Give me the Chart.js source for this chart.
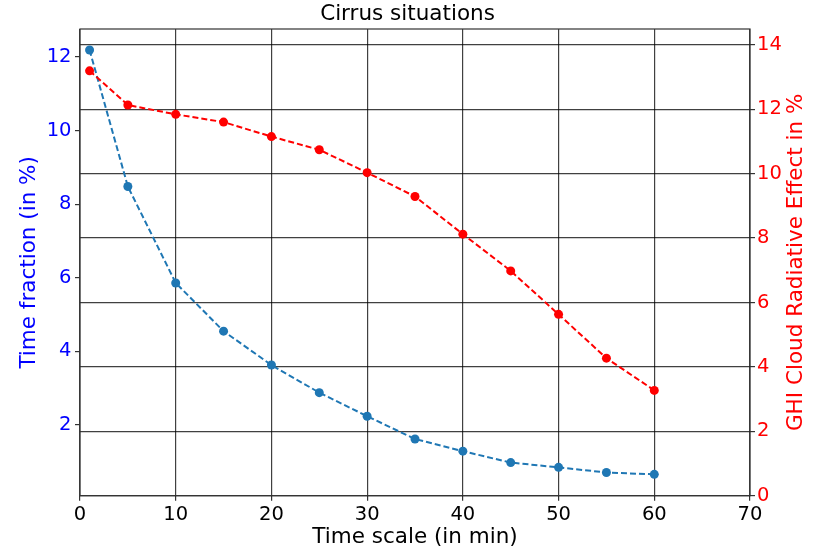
<!DOCTYPE html>
<html>
<head>
<meta charset="utf-8">
<title>Cirrus situations</title>
<script src="https://cdn.jsdelivr.net/npm/chart.js@4"></script>
<style>
  html, body { margin: 0; padding: 0; background: #fff; }
  #wrap { width: 815px; height: 550px; }
</style>
</head>
<body>
<div id="wrap"><canvas id="chartCirrus"></canvas></div>
<script>
// ===============================
// DATOS
// ===============================
const timeScale = [1, 5, 10, 15, 20, 25, 30, 35, 40, 45, 50, 55, 60];
const timeFraction = [12.19, 8.48, 5.86, 4.55, 3.63, 2.88, 2.24, 1.62, 1.29, 0.98, 0.85, 0.71, 0.66];
const cloudEffect = [13.19, 12.13, 11.84, 11.60, 11.15, 10.74, 10.03, 9.29, 8.12, 6.98, 5.63, 4.27, 3.27];

const xTicks = [0, 10, 20, 30, 40, 50, 60, 70];
const leftTicks = [2, 4, 6, 8, 10, 12];
const rightTicks = [0, 2, 4, 6, 8, 10, 12, 14];

const FONT = "'DejaVu Sans', sans-serif";
const GRID = "rgba(0,0,0,0.75)";
const TICK_SIZE = 19.5;
const LABEL_SIZE = 21.5;

// marco alrededor del área del gráfico (como los "spines" de matplotlib)
const marco = {
  id: "marco",
  afterDatasetsDraw(chart) {
    const { ctx, chartArea: a } = chart;
    ctx.save();
    ctx.strokeStyle = "#333";
    ctx.lineWidth = 1.2;
    ctx.strokeRect(a.left, a.top, a.right - a.left, a.bottom - a.top);
    ctx.restore();
  }
};

// título del eje derecho, leído de abajo hacia arriba
const tituloDerecho = {
  id: "tituloDerecho",
  afterDraw(chart) {
    const { ctx, chartArea: a } = chart;
    ctx.save();
    ctx.translate(796, (a.top + a.bottom) / 2);
    ctx.rotate(-Math.PI / 2);
    ctx.textAlign = "center";
    ctx.textBaseline = "middle";
    ctx.fillStyle = "#ff0000";
    ctx.font = `${LABEL_SIZE}px ${FONT}`;
    ctx.fillText("GHI Cloud Radiative Effect in %", 0, 0);
    ctx.restore();
  }
};

const toPoints = (xs, ys) => xs.map((x, i) => ({ x, y: ys[i] }));

new Chart(document.getElementById("chartCirrus"), {
  type: "line",
  data: {
    datasets: [
      {
        label: "Time fraction",
        data: toPoints(timeScale, timeFraction),
        yAxisID: "yLeft",
        borderColor: "#1f77b4",
        backgroundColor: "#1f77b4",
        borderWidth: 2,
        borderDash: [6, 3],
        pointRadius: 4.5,
        pointBorderWidth: 0,
        tension: 0,
        order: 2
      },
      {
        label: "GHI Cloud Radiative Effect",
        data: toPoints(timeScale, cloudEffect),
        yAxisID: "yRight",
        borderColor: "#ff0000",
        backgroundColor: "#ff0000",
        borderWidth: 2,
        borderDash: [6, 3],
        pointRadius: 4.5,
        pointBorderWidth: 0,
        tension: 0,
        order: 1
      }
    ]
  },
  options: {
    responsive: true,
    maintainAspectRatio: false,
    animation: false,
    layout: { padding: 0 },
    plugins: {
      legend: { display: false },
      tooltip: { enabled: false },
      title: {
        display: true,
        text: "Cirrus situations",
        color: "#000",
        font: { family: FONT, size: LABEL_SIZE, weight: "normal" },
        padding: { top: 1.2, bottom: 2 }
      }
    },
    scales: {
      x: {
        type: "linear",
        min: 0,
        max: 70,
        afterBuildTicks: s => { s.ticks = xTicks.map(v => ({ value: v })); },
        afterFit: s => { s.height = 54.3; },
        border: { display: false },
        grid: { color: GRID, lineWidth: 1.2, tickLength: 5, tickColor: "#333" },
        ticks: { color: "#000", padding: 3, font: { family: FONT, size: TICK_SIZE } },
        title: {
          display: true,
          text: "Time scale (in min)",
          color: "#000",
          font: { family: FONT, size: LABEL_SIZE },
          padding: { top: 0, bottom: 0 }
        }
      },
      yLeft: {
        type: "linear",
        position: "left",
        min: 0.08,
        max: 12.76,
        afterBuildTicks: s => { s.ticks = leftTicks.map(v => ({ value: v })); },
        afterFit: s => { s.width = 80; },
        border: { display: false },
        grid: { drawOnChartArea: false, tickLength: 5, tickColor: "#333", lineWidth: 1.2 },
        ticks: { color: "#0000ff", padding: 3.5, font: { family: FONT, size: TICK_SIZE } },
        title: {
          display: true,
          text: "Time fraction (in %)",
          color: "#0000ff",
          font: { family: FONT, size: LABEL_SIZE },
          padding: { top: 17, bottom: 0 }
        }
      },
      yRight: {
        type: "linear",
        position: "right",
        min: 0,
        max: 14.49,
        afterBuildTicks: s => { s.ticks = rightTicks.map(v => ({ value: v })); },
        afterFit: s => { s.width = 65; },
        border: { display: false },
        grid: { color: GRID, lineWidth: 1.2, tickLength: 5, tickColor: "#333" },
        ticks: { color: "#ff0000", padding: 2, font: { family: FONT, size: TICK_SIZE } },
        title: { display: false }
      }
    }
  },
  plugins: [marco, tituloDerecho]
});
</script>
</body>
</html>
